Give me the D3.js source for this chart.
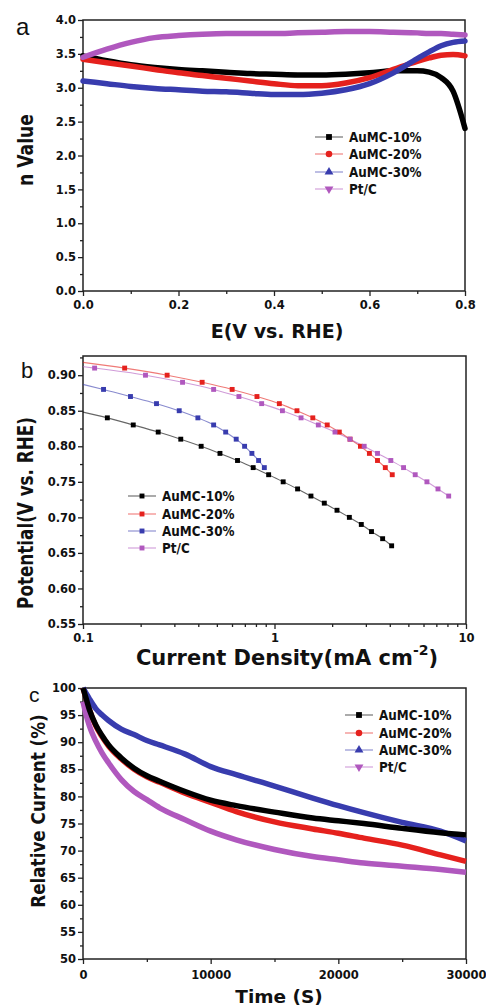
<!DOCTYPE html>
<html>
<head>
<meta charset="utf-8">
<title>AuMC ORR figure</title>
<script src="https://cdn.jsdelivr.net/npm/d3@7/dist/d3.min.js"></script>
<style>
	body { margin: 0; background: #fff; }
	text { font-family: "DejaVu Sans", sans-serif; font-weight: bold; fill: #111; }
	.letter { font-family: "Liberation Sans", Arial, sans-serif; font-weight: normal; }
</style>
</head>
<body>
<svg id="chart" width="486" height="1007"></svg>
<script>
/////////////////////////////////////////////////////////////
// data

const names = ["AuMC-10%", "AuMC-20%", "AuMC-30%", "Pt/C"];
const colors = ["#000000", "#e5211d", "#383cae", "#b058be"];

// (a) electron transfer number vs potential
const nE = [0, 0.05, 0.1, 0.15, 0.2, 0.25, 0.3, 0.35, 0.4, 0.45, 0.5, 0.55, 0.6, 0.65, 0.7, 0.725, 0.75, 0.775, 0.8];
const nAu10 = [3.47, 3.40, 3.34, 3.30, 3.27, 3.25, 3.23, 3.21, 3.20, 3.19, 3.19, 3.20, 3.22, 3.25, 3.25, 3.23, 3.15, 2.95, 2.40];
const nAu20 = [3.42, 3.37, 3.32, 3.27, 3.22, 3.18, 3.14, 3.10, 3.06, 3.03, 3.03, 3.07, 3.15, 3.27, 3.39, 3.44, 3.48, 3.49, 3.47];
const nAu30 = [3.10, 3.06, 3.02, 2.99, 2.97, 2.95, 2.94, 2.92, 2.90, 2.90, 2.92, 2.97, 3.06, 3.22, 3.43, 3.53, 3.62, 3.67, 3.69];
const nPtC = [3.45, 3.57, 3.67, 3.74, 3.77, 3.79, 3.80, 3.80, 3.80, 3.81, 3.82, 3.83, 3.83, 3.82, 3.81, 3.80, 3.80, 3.79, 3.78];

// (b) Tafel plots: potential (V) and current density (mA cm-2)
const tafelV10 = [0.84, 0.83, 0.82, 0.81, 0.80, 0.79, 0.78, 0.77, 0.76, 0.75, 0.74, 0.73, 0.72, 0.71, 0.70, 0.69, 0.68, 0.67, 0.66];
const tafelJ10 = [0.134, 0.183, 0.247, 0.324, 0.414, 0.519, 0.641, 0.774, 0.932, 1.11, 1.32, 1.55, 1.82, 2.12, 2.46, 2.84, 3.21, 3.67, 4.09];
const tafelV20 = [0.91, 0.90, 0.89, 0.88, 0.87, 0.86, 0.85, 0.84, 0.83, 0.82, 0.81, 0.80, 0.79, 0.78, 0.77, 0.76];
const tafelJ20 = [0.165, 0.275, 0.419, 0.601, 0.810, 1.06, 1.31, 1.585, 1.885, 2.18, 2.48, 2.81, 3.13, 3.45, 3.79, 4.12];
const tafelV30 = [0.88, 0.87, 0.86, 0.85, 0.84, 0.83, 0.82, 0.81, 0.80, 0.79, 0.78, 0.77];
const tafelJ30 = [0.128, 0.177, 0.242, 0.318, 0.398, 0.481, 0.556, 0.631, 0.698, 0.762, 0.826, 0.885];
const tafelVPt = [0.91, 0.90, 0.89, 0.88, 0.87, 0.86, 0.85, 0.84, 0.83, 0.82, 0.81, 0.80, 0.79, 0.78, 0.77, 0.76, 0.75, 0.74, 0.73];
const tafelJPt = [0.115, 0.212, 0.331, 0.481, 0.652, 0.857, 1.10, 1.376, 1.694, 2.07, 2.48, 2.94, 3.45, 4.05, 4.72, 5.43, 6.25, 7.14, 8.12];
// where each fitted line meets the left axis (j = 0.1)
const tafelStart = [0.848, 0.918, 0.887, 0.912];

// (c) chronoamperometry: time (s) and relative current (%)
const stabT = [0, 250, 500, 1000, 1500, 2000, 3000, 4000, 5000, 6000, 8000, 10000, 12000, 15000, 18000, 20000, 22000, 25000, 28000, 30000];
const relAu10 = [100, 98, 96, 93.2, 91.2, 89.5, 87.1, 85.2, 83.8, 82.8, 80.9, 79.3, 78.3, 77.1, 76.0, 75.5, 75.0, 74.1, 73.3, 72.9];
const relAu20 = [100, 98, 96, 93.0, 91.0, 89.3, 86.9, 85.0, 83.6, 82.6, 80.6, 78.9, 77.2, 75.3, 74.0, 73.2, 72.3, 71.0, 69.2, 68.0];
const relAu30 = [100, 99, 98, 96.2, 95.0, 94.0, 92.4, 91.4, 90.3, 89.5, 87.8, 85.5, 84.0, 81.9, 79.7, 78.3, 77.0, 75.2, 73.6, 71.8];
const relPtC = [97.5, 95, 93, 90.2, 88, 86.2, 83.1, 80.9, 79.4, 77.9, 75.7, 73.6, 72.0, 70.2, 68.9, 68.3, 67.7, 67.1, 66.5, 66.0];

/////////////////////////////////////////////////////////////
// helpers

const svg = d3.select("#chart");
svg.append("rect").attr("width", 486).attr("height", 1007).attr("fill", "#fff");

const symbolDown = {
	draw(ctx, size) { // triangle pointing down
		const y = -Math.sqrt(size / (3 * Math.sqrt(3)));
		ctx.moveTo(0, -y * 2);
		ctx.lineTo(-Math.sqrt(3) * y, y);
		ctx.lineTo(Math.sqrt(3) * y, y);
		ctx.closePath();
	}
};
const shapes = [d3.symbolSquare, d3.symbolCircle, d3.symbolTriangle, symbolDown];

function frame(g, x, y, o) {
	const [x0, x1] = x.range(), [y1, y0] = y.range();
	const font = g => g.selectAll("text").style("font-size", "11.5px");
	g.append("g").attr("transform", `translate(0,${y1})`)
		.call(d3.axisBottom(x).tickValues(o.xMinor).tickSize(3).tickFormat(""))
		.call(a => a.select(".domain").remove());
	g.append("g").attr("transform", `translate(0,${y1})`)
		.call(d3.axisBottom(x).tickValues(o.xMajor).tickSize(5).tickPadding(o.xPad).tickFormat(o.xFmt))
		.call(a => a.select(".domain").remove()).call(font);
	g.append("g").attr("transform", `translate(${x0},0)`)
		.call(d3.axisLeft(y).tickValues(o.yMinor).tickSize(3).tickFormat(""))
		.call(a => a.select(".domain").remove());
	g.append("g").attr("transform", `translate(${x0},0)`)
		.call(d3.axisLeft(y).tickValues(o.yMajor).tickSize(5).tickPadding(2).tickFormat(o.yFmt))
		.call(a => a.select(".domain").remove()).call(font);
	g.selectAll(".tick line").attr("stroke", "#222").attr("stroke-width", 1.3);
	g.selectAll(".tick text").attr("fill", "#111").style("font-family", "DejaVu Sans").style("font-weight", "bold");
	g.append("rect")
		.attr("x", x0).attr("y", y0).attr("width", x1 - x0).attr("height", y1 - y0)
		.attr("fill", "none").attr("stroke", "#222").attr("stroke-width", 1.5);
}

function label(txt, x, y, size, rot = 0, sy = 1, anchor = "middle") {
	return svg.append("text")
		.attr("transform", `translate(${x},${y}) rotate(${rot}) scale(1,${sy})`)
		.attr("text-anchor", anchor)
		.style("font-size", size + "px")
		.text(txt);
}

function legend(lx, rows, markerSize, allSquares) {
	names.forEach((name, i) => {
		const g = svg.append("g").attr("transform", `translate(${lx},${rows[i]})`);
		g.append("line").attr("x1", 0).attr("x2", 28)
			.attr("stroke", colors[i]).attr("stroke-opacity", 0.55).attr("stroke-width", 1.2);
		g.append("path").attr("transform", "translate(14,0)")
			.attr("d", d3.symbol(allSquares ? d3.symbolSquare : shapes[i], markerSize)())
			.attr("fill", colors[i]);
		g.append("text").attr("transform", "translate(34,0) scale(1,1.12)")
			.attr("dy", "0.36em").style("font-size", "12px").text(name);
	});
}

/////////////////////////////////////////////////////////////
// (a) n value

const xa = d3.scaleLinear([0, 0.8], [83, 465]);
const ya = d3.scaleLinear([0, 4], [291, 20]);
const ga = svg.append("g");
frame(ga, xa, ya, {
	xMajor: [0, 0.2, 0.4, 0.6, 0.8], xMinor: d3.range(0.1, 0.8, 0.2), xFmt: d3.format(".1f"), xPad: 5,
	yMajor: d3.range(0, 4.01, 0.5), yMinor: d3.range(0.25, 4, 0.5), yFmt: d3.format(".1f")
});
const lineA = d3.line().x((d, i) => xa(nE[i])).y(d => ya(d)).curve(d3.curveMonotoneX);
[nAu10, nAu20, nAu30, nPtC].forEach((s, i) => {
	ga.append("path").attr("d", lineA(s)).attr("fill", "none")
		.attr("stroke", colors[i]).attr("stroke-width", 5.5).attr("stroke-linecap", "round");
});
legend(315, [137, 154, 172, 189], 34, false);
label("a", 16, 35, 24, 0, 1, "start").attr("class", "letter");
label("n Value", 33, 150, 17.2, -90, 1.2);
label("E(V vs. RHE)", 277, 338, 19);

/////////////////////////////////////////////////////////////
// (b) Tafel

const xb = d3.scaleLog([0.1, 10], [83, 466]);
const yb = d3.scaleLinear([0.55, 0.927], [624, 356]);
const gb = svg.append("g");
const logMinor = [2, 3, 4, 5, 6, 7, 8, 9].flatMap(k => [k / 10, k]);
frame(gb, xb, yb, {
	xMajor: [0.1, 1, 10], xMinor: logMinor, xFmt: d => d3.format("~g")(d), xPad: 5,
	yMajor: d3.range(0.55, 0.901, 0.05), yMinor: d3.range(0.575, 0.93, 0.05), yFmt: d3.format(".2f")
});
const tafel = [[tafelJ10, tafelV10], [tafelJ20, tafelV20], [tafelJ30, tafelV30], [tafelJPt, tafelVPt]];
const lineB = d3.line().x(d => xb(d[0])).y(d => yb(d[1])).curve(d3.curveMonotoneX);
tafel.forEach(([J, V], i) => {
	const pts = [[0.1, tafelStart[i]]].concat(J.map((j, k) => [j, V[k]]));
	gb.append("path").attr("d", lineB(pts)).attr("fill", "none")
		.attr("stroke", colors[i]).attr("stroke-opacity", 0.6).attr("stroke-width", 1.1);
});
tafel.forEach(([J, V], i) => {
	gb.append("g").selectAll("path").data(J).join("path")
		.attr("transform", (j, k) => `translate(${xb(j)},${yb(V[k])})`)
		.attr("d", d3.symbol(d3.symbolSquare, 24)())
		.attr("fill", colors[i]);
});
legend(128, [496, 514, 531, 548], 24, true);
label("b", 21, 378, 22, 0, 1, "start").attr("class", "letter");
label("Potential(V vs. RHE)", 33, 513, 16.8, -90, 1.22);
const tb = label("Current Density(mA cm", 287, 665, 21);
tb.append("tspan").attr("dy", -10).style("font-size", "14px").text("-2");
tb.append("tspan").attr("dy", 10).text(")");

/////////////////////////////////////////////////////////////
// (c) stability

const xc = d3.scaleLinear([0, 30000], [83, 466]);
const yc = d3.scaleLinear([50, 100], [959, 688]);
const gc = svg.append("g");
frame(gc, xc, yc, {
	xMajor: [0, 10000, 20000, 30000], xMinor: [5000, 15000, 25000], xFmt: d3.format("d"), xPad: 7,
	yMajor: d3.range(50, 101, 5), yMinor: d3.range(52.5, 100, 5), yFmt: d3.format("d")
});
const lineC = d3.line().x((d, i) => xc(stabT[i])).y(d => yc(d)).curve(d3.curveMonotoneX);
// drawing order as in the figure: black trace lies on top
[[relAu20, 1], [relPtC, 3], [relAu30, 2], [relAu10, 0]].forEach(([s, i]) => {
	gc.append("path").attr("d", lineC(s)).attr("fill", "none")
		.attr("stroke", colors[i]).attr("stroke-width", 5.5);
});
legend(345, [715, 733, 750, 767], 34, false);
label("c", 29, 702, 21, 0, 1, "start").attr("class", "letter");
label("Relative Current (%)", 45, 811, 16.8, -90, 1.2);
label("Time (S)", 279, 1003, 18.5);
</script>
</body>
</html>
